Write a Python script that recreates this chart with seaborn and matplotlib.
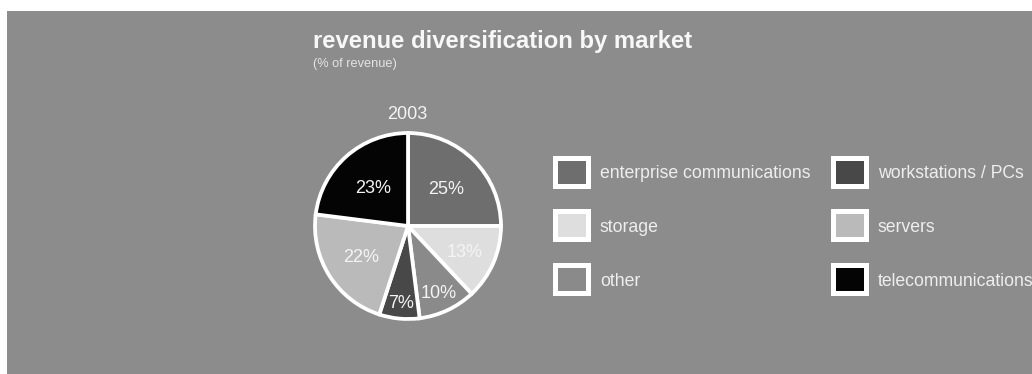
import matplotlib
matplotlib.use("Agg")
import matplotlib.pyplot as plt
from matplotlib.patches import Rectangle
import numpy as np
import seaborn as sns

# Revenue share by market, 2003 (clockwise from 12 o'clock)
markets = ["enterprise communications", "storage", "other",
           "workstations / PCs", "servers", "telecommunications"]
shares = [25, 13, 10, 7, 22, 23]
year_label = "2003"
title_text = "revenue diversification by market"
subtitle_text = "(% of revenue)"

# Grey ramp used for the market slices
market_colors = ["#6e6e6e", "#dedede", "#8a8a8a", "#484848", "#bababa", "#040404"]
panel_color = "#8c8c8c"
# How far out (as a fraction of the radius) each percentage sits
label_radius = [0.58, 0.66, 0.78, 0.82, 0.60, 0.57]

sns.set_theme(style="white")
plt.rcParams["font.family"] = ["Liberation Sans", "DejaVu Sans"]

W, H = 1032, 374
fig = plt.figure(figsize=(W / 100, H / 100), dpi=100)
fig.patch.set_facecolor("white")

# Pixel-space canvas for panel, headings and legend
canvas = fig.add_axes([0, 0, 1, 1], zorder=0)
canvas.set_xlim(0, W)
canvas.set_ylim(H, 0)
canvas.axis("off")
canvas.add_patch(Rectangle((7, 11), W - 7, H - 11, facecolor=panel_color,
                           edgecolor="none"))

canvas.text(313, 48, title_text, color="#f7f7f7", fontsize=17.2,
            fontweight="bold", ha="left", va="baseline")
canvas.text(313, 67, subtitle_text, color="#e4e4e4", fontsize=9.2,
            ha="left", va="baseline")
canvas.text(407, 119, year_label, color="#f4f4f4", fontsize=13,
            ha="center", va="baseline")

# Pie
cx, cy, half = 408, 226, 100
ax = fig.add_axes([(cx - half) / W, (H - cy - half) / H, 2 * half / W, 2 * half / H],
                  zorder=1)
ax.set_facecolor("none")
wedges, _ = ax.pie(shares, colors=market_colors, startangle=90, counterclock=False,
                   radius=1.0,
                   wedgeprops=dict(edgecolor="white", linewidth=2.7))
lim = half / 93.0
ax.set_xlim(-lim, lim)
ax.set_ylim(-lim, lim)
ax.set_aspect("equal")
ax.axis("off")

for w, v, r in zip(wedges, shares, label_radius):
    mid = np.deg2rad((w.theta1 + w.theta2) / 2)
    ax.text(r * np.cos(mid), r * np.sin(mid), f"{v}%", color="#f4f4f4",
            fontsize=13, ha="center", va="center_baseline")

# Legend: two columns of three swatches
col_x = [553, 831]
row_y = [171.5, 225, 279]
box_w, box_h = 37, 32
for i, (name, col) in enumerate(zip(markets, market_colors)):
    c, r = divmod(i, 3)
    x0 = col_x[c]
    y0 = row_y[r]
    canvas.add_patch(Rectangle((x0 + 2, y0 - box_h / 2 + 2), box_w - 4, box_h - 4,
                               facecolor=col, edgecolor="white", linewidth=3.6))
    canvas.text(x0 + 47, y0 + 6.5, name, color="#eeeeee", fontsize=12.7,
                ha="left", va="baseline")

fig.savefig("out.png", dpi=100)
